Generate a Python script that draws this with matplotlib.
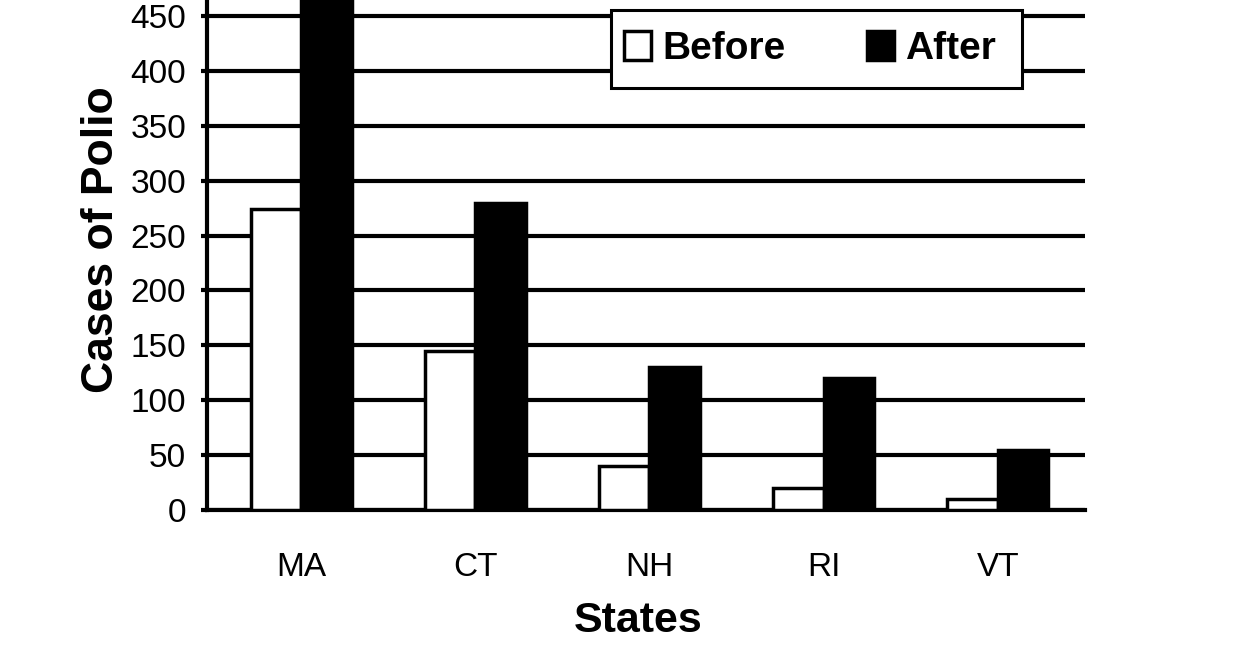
import matplotlib.pyplot as plt
from matplotlib.patches import Rectangle
import numpy as np

plt.rcParams['font.family'] = ['Liberation Sans', 'DejaVu Sans']

states = ['MA', 'CT', 'NH', 'RI', 'VT']
before = [274, 145, 40, 20, 10]
after = [480, 280, 130, 120, 55]
yticks = [0, 50, 100, 150, 200, 250, 300, 350, 400, 450]

fig = plt.figure(figsize=(12.42, 6.5), dpi=100)
ax = fig.add_axes([207 / 1242, 1 - 510 / 650, (1085 - 207) / 1242, 510 / 650])

x = np.arange(len(states))
w = 0.29
ax.bar(x - w / 2, before, w, color='white', edgecolor='black', linewidth=2.5,
       label='Before', zorder=3)
ax.bar(x + w / 2, after, w, color='black', edgecolor='black', linewidth=2.5,
       label='After', zorder=3)

ax.set_xlim(-0.54, 4.5)
ax.set_ylim(0, 464.5)
ax.set_yticks(yticks)
ax.set_xticks(x)
ax.set_xticklabels(states)
ax.yaxis.grid(True, color='black', linewidth=3)
ax.set_axisbelow(True)

for s in ['top', 'right']:
    ax.spines[s].set_visible(False)
ax.spines['left'].set_linewidth(3)
ax.spines['bottom'].set_linewidth(3)
ax.tick_params(axis='y', direction='out', length=4, width=3, labelsize=24, pad=11)
ax.tick_params(axis='x', length=0, labelsize=24, pad=30)

ax.set_xlabel('States', fontsize=31, fontweight='bold')
ax.set_ylabel('Cases of Polio', fontsize=32, fontweight='bold')
ax.xaxis.set_label_coords(0.491, -0.178)
ax.yaxis.set_label_coords(-0.097, 0.53)

# legend box drawn separately so its padding can match
box = Rectangle((0.4601, 0.8275), 0.4681, 0.1529, transform=ax.transAxes,
                facecolor='white', edgecolor='black', linewidth=2.2, zorder=4,
                clip_on=False)
ax.add_patch(box)
leg = ax.legend(loc='center left', bbox_to_anchor=(0.4749, 0.904),
                ncol=2, frameon=False, prop={'weight': 'bold', 'size': 28},
                handlelength=0.7, handleheight=0.75, handletextpad=0.28,
                columnspacing=2.1, borderpad=0, borderaxespad=0)
leg.set_zorder(5)

fig.savefig('out.png', dpi=100)
